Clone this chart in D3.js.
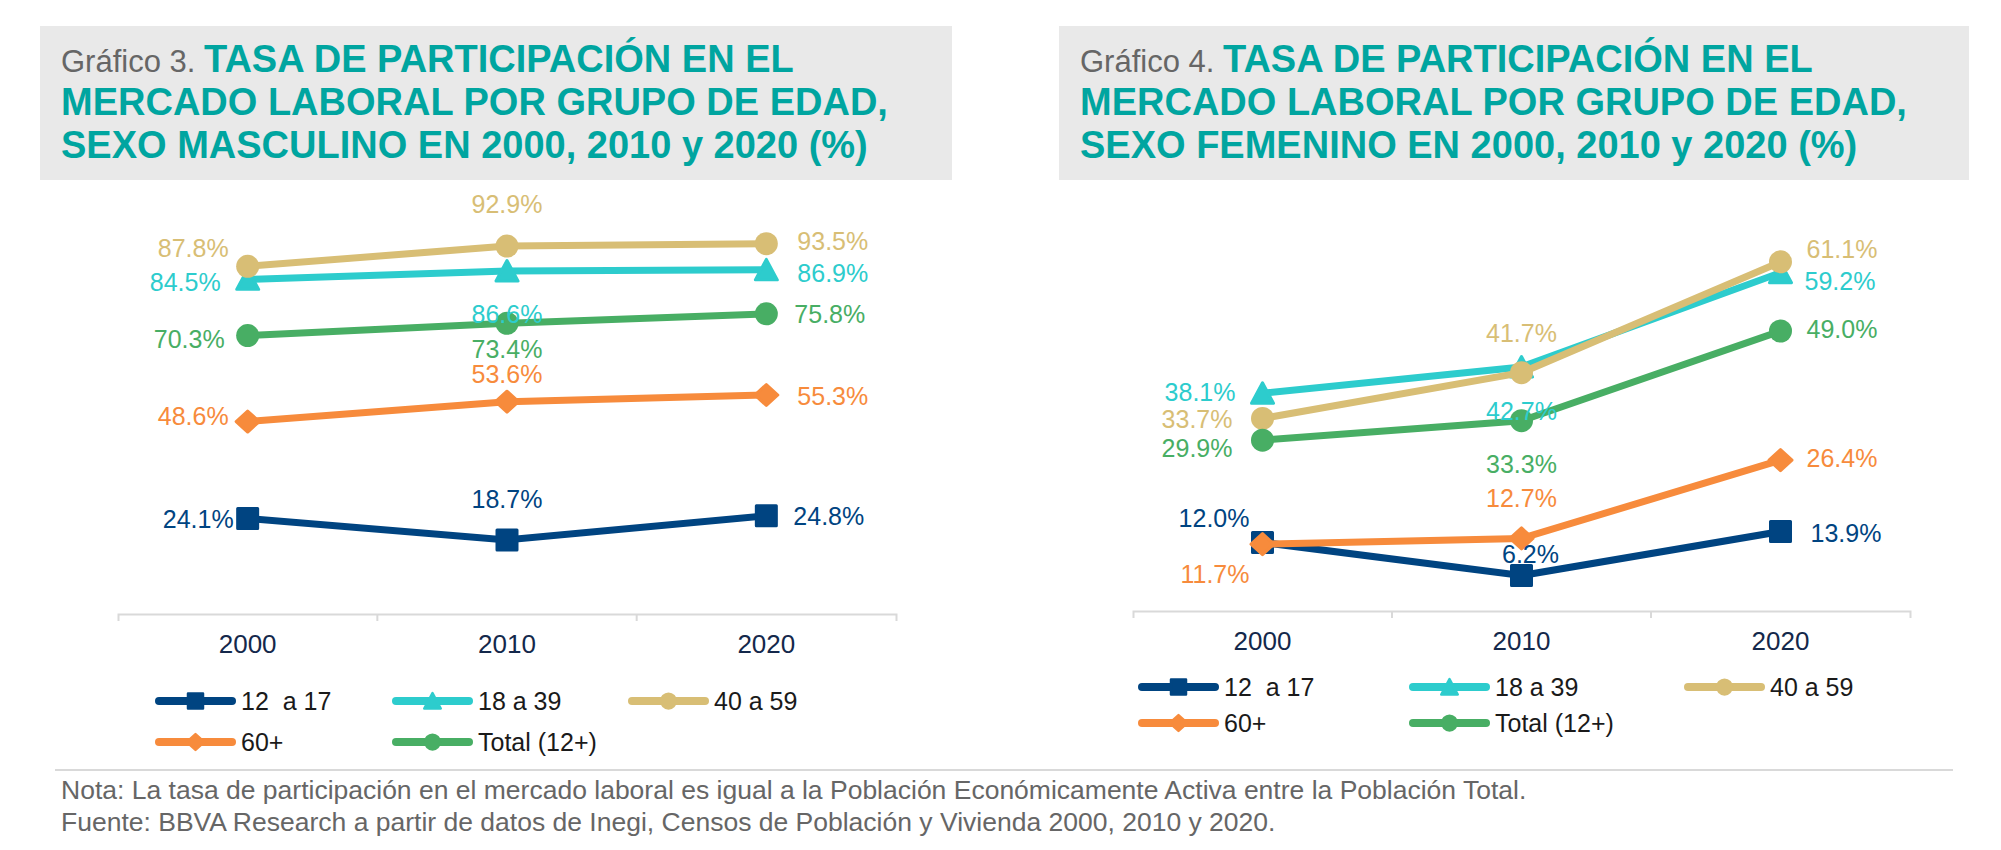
<!DOCTYPE html>
<html>
<head>
<meta charset="utf-8">
<script src="https://cdn.jsdelivr.net/npm/d3@7"></script>
<style>
  html, body { margin: 0; padding: 0; background: #fff; }
  svg text { font-family: "Liberation Sans", Arial, sans-serif; }
</style>
</head>
<body>
<div id="root"></div>
<script>
// ---- data ----
const years = ["2000", "2010", "2020"];
const seriesNames = ["12  a 17", "18 a 39", "40 a 59", "60+", "Total (12+)"];
const seriesColors = ["#004481", "#2DCCCD", "#D8BE75", "#F78B3C", "#48AE64"];
const seriesShapes = ["square", "triangle", "circle", "diamond", "circle"];

const maleValues = [
	[24.1, 18.7, 24.8],
	[84.5, 86.6, 86.9],
	[87.8, 92.9, 93.5],
	[48.6, 53.6, 55.3],
	[70.3, 73.4, 75.8]
];
const femaleValues = [
	[12.0, 6.2, 13.9],
	[38.1, 42.7, 59.2],
	[33.7, 41.7, 61.1],
	[11.7, 12.7, 26.4],
	[29.9, 33.3, 49.0]
];

const maleTitle = ["Gráfico 3.", "TASA DE PARTICIPACIÓN EN EL", "MERCADO LABORAL POR GRUPO DE EDAD,", "SEXO MASCULINO EN 2000, 2010 y 2020 (%)"];
const femaleTitle = ["Gráfico 4.", "TASA DE PARTICIPACIÓN EN EL", "MERCADO LABORAL POR GRUPO DE EDAD,", "SEXO FEMENINO EN 2000, 2010 y 2020 (%)"];

const noteLines = [
	"Nota: La tasa de participación en el mercado laboral es igual a la Población Económicamente Activa entre la Población Total.",
	"Fuente: BBVA Research a partir de datos de Inegi, Censos de Población y Vivienda 2000, 2010 y 2020."
];

// ---- layout (label nudges: [anchor, dx, dy] per series per year) ----
const maleLabelPos = [
	[["end", -14, 9], ["middle", 0, -32], ["start", 27, 9]],
	[["end", -27, 12], ["middle", 0, 52], ["start", 31, 12]],
	[["end", -19, -9], ["middle", 0, -33], ["start", 31, 6]],
	[["end", -19, 3], ["middle", 0, -19], ["start", 31, 10]],
	[["end", -23, 12], ["middle", 0, 35], ["start", 28, 9]]
];
const femaleLabelPos = [
	[["end", -13, -15], ["middle", 9, -13], ["start", 30, 10]],
	[["end", -27, 8], ["middle", 0, 53], ["start", 24, 17]],
	[["end", -30, 10], ["middle", 0, -31], ["start", 26, -4]],
	[["end", -13, 39], ["middle", 0, -31], ["start", 26, 7]],
	[["end", -30, 17], ["middle", 0, 52], ["start", 26, 7]]
];

const W = 2001, H = 850;

const svg = d3.select("#root").append("svg")
	.attr("width", W)
	.attr("height", H)
	.attr("viewBox", `0 0 ${W} ${H}`);

svg.append("rect").attr("width", W).attr("height", H).attr("fill", "#fff");

function markerPath(shape, s) {
	if (shape === "circle") {
		const r = 11.5 * s;
		return `M${-r},0a${r},${r} 0 1,0 ${2*r},0a${r},${r} 0 1,0 ${-2*r},0Z`;
	}
	if (shape === "square") {
		return `M${-10*s},${-10*s}H${10*s}V${10*s}H${-10*s}Z`;
	}
	if (shape === "triangle") {
		return `M0,${-10.5*s}L${11*s},${10*s}H${-11*s}Z`;
	}
	// diamond
	return `M0,${-10.5*s}L${11.5*s},0L0,${10.5*s}L${-11.5*s},0Z`;
}

function drawChart(opts) {
	const values = opts.values;

	// title box
	const tg = svg.append("g").attr("class", "title");
	tg.append("rect")
		.attr("x", opts.box[0]).attr("y", 26)
		.attr("width", opts.box[1] - opts.box[0]).attr("height", 154)
		.attr("fill", "#E9E9E9");

	const t1 = tg.append("text")
		.attr("x", opts.titleX).attr("y", 72)
		.attr("xml:space", "preserve");
	t1.append("tspan")
		.attr("fill", "#666666")
		.style("font-size", "31px")
		.text(opts.title[0] + " ");
	t1.append("tspan")
		.attr("fill", "#00A5A0")
		.style("font-size", "38px")
		.style("font-weight", "bold")
		.text(opts.title[1]);
	opts.title.slice(2).forEach((line, i) => {
		tg.append("text")
			.attr("x", opts.titleX).attr("y", 115 + i * 43)
			.attr("fill", "#00A5A0")
			.style("font-size", "38px")
			.style("font-weight", "bold")
			.text(line);
	});

	const scaleX = d3.scaleBand()
		.domain(years)
		.range(opts.xRange);

	const scaleY = d3.scaleLinear()
		.domain([0, opts.yMax])
		.range([opts.axisY, opts.axisY - 400]);

	const cx = d => scaleX(d) + scaleX.bandwidth() / 2;

	// axis
	const axisX = d3.axisBottom(scaleX)
		.tickSize(0)
		.tickSizeOuter(7)
		.tickPadding(21);

	const gAxis = svg.append("g")
		.attr("class", "axis axis-x")
		.attr("transform", `translate(0,${opts.axisY})`)
		.call(axisX);
	gAxis.select(".domain")
		.attr("stroke", "#D9D9D9")
		.attr("stroke-width", 2);
	gAxis.selectAll(".tick text")
		.attr("fill", "#14284B")
		.style("font-size", "26px");
	gAxis.selectAll(".sep")
		.data(years.slice(1))
		.enter().append("line")
		.attr("class", "sep")
		.attr("x1", d => scaleX(d)).attr("x2", d => scaleX(d))
		.attr("y1", 0).attr("y2", 7)
		.attr("stroke", "#D9D9D9")
		.attr("stroke-width", 2);

	const lineGenerator = d3.line()
		.x((d, i) => cx(years[i]))
		.y(d => scaleY(d));

	const plot = svg.append("g").attr("class", "plot");

	values.forEach((vals, s) => {
		const g = plot.append("g").attr("class", "series");
		g.append("path")
			.datum(vals)
			.attr("d", lineGenerator)
			.attr("fill", "none")
			.attr("stroke", seriesColors[s])
			.attr("stroke-width", 7);
		g.selectAll(".marker")
			.data(vals)
			.enter().append("path")
			.attr("class", "marker")
			.attr("transform", (d, i) => `translate(${cx(years[i])},${scaleY(d)})`)
			.attr("d", markerPath(seriesShapes[s], 1))
			.attr("fill", seriesColors[s])
			.attr("stroke", seriesColors[s])
			.attr("stroke-width", seriesShapes[s] === "circle" ? 0 : 3)
			.attr("stroke-linejoin", "round");
	});

	const labels = svg.append("g").attr("class", "labels");
	values.forEach((vals, s) => {
		labels.selectAll(null)
			.data(vals)
			.enter().append("text")
			.attr("x", (d, i) => cx(years[i]) + opts.labelPos[s][i][1])
			.attr("y", (d, i) => scaleY(d) + opts.labelPos[s][i][2])
			.attr("text-anchor", (d, i) => opts.labelPos[s][i][0])
			.attr("fill", seriesColors[s])
			.style("font-size", "25px")
			.text(d => d.toFixed(1) + "%");
	});

	// legend
	const legend = svg.append("g").attr("class", "legend");
	seriesNames.forEach((name, s) => {
		const col = s < 3 ? s : s - 3;
		const row = s < 3 ? 0 : 1;
		const lx = opts.legendX[col];
		const ly = opts.legendY[row];
		const item = legend.append("g").attr("transform", `translate(${lx},${ly})`);
		item.append("line")
			.attr("x1", 2).attr("x2", 75)
			.attr("stroke", seriesColors[s])
			.attr("stroke-width", 8)
			.attr("stroke-linecap", "round");
		item.append("path")
			.attr("transform", "translate(38.5,0)")
			.attr("d", markerPath(seriesShapes[s], 0.75))
			.attr("fill", seriesColors[s])
			.attr("stroke", seriesColors[s])
			.attr("stroke-width", seriesShapes[s] === "circle" ? 0 : 2.5)
			.attr("stroke-linejoin", "round");
		item.append("text")
			.attr("x", 84)
			.attr("y", 9)
			.attr("xml:space", "preserve")
			.attr("fill", "#1A1A1A")
			.style("font-size", "25px")
			.text(name);
	});
}

drawChart({
	values: maleValues,
	title: maleTitle,
	box: [40, 952],
	titleX: 61,
	xRange: [118, 896],
	axisY: 614,
	yMax: 101,
	labelPos: maleLabelPos,
	legendX: [157, 394, 630],
	legendY: [701, 742]
});

drawChart({
	values: femaleValues,
	title: femaleTitle,
	box: [1059, 1969],
	titleX: 1080,
	xRange: [1133, 1910],
	axisY: 611,
	yMax: 70,
	labelPos: femaleLabelPos,
	legendX: [1140, 1411, 1686],
	legendY: [687, 723]
});

// footer
svg.append("line")
	.attr("x1", 55).attr("x2", 1953)
	.attr("y1", 770).attr("y2", 770)
	.attr("stroke", "#D9D9D9")
	.attr("stroke-width", 2);

svg.selectAll(".note")
	.data(noteLines)
	.enter().append("text")
	.attr("class", "note")
	.attr("x", 61)
	.attr("y", (d, i) => 799 + i * 32)
	.attr("fill", "#666666")
	.style("font-size", "26.5px")
	.text(d => d);
</script>
</body>
</html>
